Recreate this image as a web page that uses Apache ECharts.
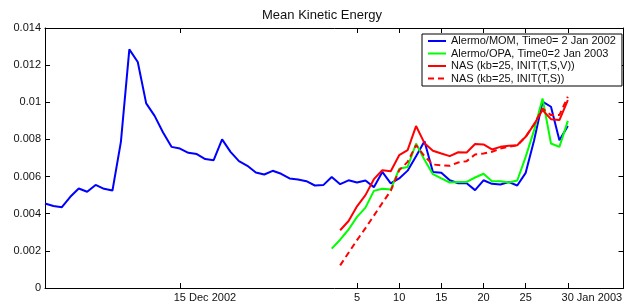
<!DOCTYPE html>
<html>
<head>
    <meta charset="UTF-8">
    <title>Mean Kinetic Energy</title>
    <style>
        html, body {
            margin: 0;
            padding: 0;
            overflow: hidden;
            background: #fff;
        }
        #chart {
            width: 631px;
            height: 306px;
        }
    </style>
    <script src="https://cdn.jsdelivr.net/npm/echarts@6/dist/echarts.min.js"></script>
</head>
<body>
<div id="chart"></div>
<script>
    // x values are day numbers counted from 30 Nov 2002 (1 = 1 Dec 2002, 32 = 1 Jan 2003)
    const momStart = -1;
    const momValues = [
        0.00455, 0.00442, 0.00435, 0.00491, 0.00536, 0.00518, 0.00555, 0.00534, 0.00525, 0.00787,
        0.01285, 0.01217, 0.00994, 0.00927, 0.00837, 0.00760, 0.00751, 0.00728, 0.00721, 0.00694,
        0.00688, 0.00800, 0.00733, 0.00683, 0.00658, 0.00622, 0.00611, 0.00631, 0.00615, 0.00590,
        0.00584, 0.00575, 0.00552, 0.00554, 0.00598, 0.00559, 0.00580, 0.00568, 0.00579, 0.00543,
        0.00625, 0.00563, 0.00590, 0.00632, 0.00710, 0.00790, 0.00625, 0.00620, 0.00580, 0.00564,
        0.00564, 0.00527, 0.00580, 0.00561, 0.00557, 0.00570, 0.00552, 0.00620, 0.00796, 0.01003,
        0.00976, 0.00796, 0.00872
    ];
    const opaStart = 33;
    const opaValues = [
        0.00212, 0.00260, 0.00315, 0.00383, 0.00433, 0.00523, 0.00534, 0.00530, 0.00642, 0.00652,
        0.00778, 0.00690, 0.00613, 0.00590, 0.00568, 0.00571, 0.00571, 0.00595, 0.00615, 0.00575,
        0.00575, 0.00568, 0.00579, 0.00706, 0.00850, 0.01021, 0.00778, 0.00760, 0.00900
    ];
    const nasStart = 34;
    const nasTSV = [
        0.00311, 0.00361, 0.00440, 0.00500, 0.00586, 0.00634, 0.00629, 0.00715, 0.00742, 0.00872,
        0.00780, 0.00739, 0.00724, 0.00710, 0.00731, 0.00730, 0.00775, 0.00773, 0.00746, 0.00760,
        0.00766, 0.00769, 0.00814, 0.00882, 0.00958, 0.00909, 0.00904, 0.01012
    ];
    const nasTS = [
        0.00122, 0.00190, 0.00258, 0.00322, 0.00390, 0.00458, 0.00523, 0.00634, 0.00679, 0.00769,
        0.00710, 0.00665, 0.00661, 0.00658, 0.00676, 0.00683, 0.00719, 0.00724, 0.00733, 0.00751,
        0.00760, 0.00769, 0.00814, 0.00882, 0.00967, 0.00931, 0.00931, 0.01030
    ];
    const seriesNames = [
        'Alermo/MOM, Time0= 2 Jan 2002',
        'Alermo/OPA, Time0=2 Jan 2003',
        'NAS (kb=25, INIT(T,S,V))',
        'NAS (kb=25, INIT(T,S))'
    ];
    const tickDays = [15, 36, 41, 46, 51, 56, 61];
    const tickNums = ['15', '5', '10', '15', '20', '25', '30'];
    const tickSuffix = [' Dec 2002', '', '', '', '', '', ' Jan 2003'];

    const fontFamily = '"Liberation Sans", Arial, sans-serif';
    const fontSize = 11;

    function pairs(start, values) {
        return values.map((v, i) => [start + i, v]);
    }

    // width of the month suffix, so the day number sits centred on its tick
    const ctx = document.createElement('canvas').getContext('2d');
    ctx.font = fontSize + 'px ' + fontFamily;
    function textWidth(s) { return ctx.measureText(s).width; }

    function dayLabel(value) {
        const i = tickDays.indexOf(Math.round(value));
        if (i < 0) return '';
        if (!tickSuffix[i]) return tickNums[i];
        const pad = Math.round(textWidth(tickSuffix[i]));
        return '{p' + pad + '|}' + tickNums[i] + tickSuffix[i];
    }
    const rich = {};
    tickSuffix.forEach(s => {
        if (s) {
            const pad = Math.round(textWidth(s));
            rich['p' + pad] = {width: pad};
        }
    });

    const chart = echarts.init(document.getElementById('chart'), null, {renderer: 'canvas'});

    const axisLine = {show: true, onZero: false, lineStyle: {color: '#000', width: 1}};
    const xMin = -1, xMax = 67.6;

    const option = {
        animation: false,
        backgroundColor: '#fff',
        textStyle: {fontFamily: fontFamily},
        title: {
            text: 'Mean Kinetic Energy',
            left: 257,
            top: 4,
            textStyle: {fontSize: 13, fontWeight: 'normal', color: '#111', fontFamily: fontFamily}
        },
        grid: {left: 45, right: 7.5, top: 28, bottom: 18, containLabel: false},
        legend: {
            orient: 'vertical',
            left: 422,
            top: 34,
            padding: [1.5, 6, 2, 5],
            itemWidth: 18,
            itemHeight: 11,
            itemGap: 1.5,
            backgroundColor: '#fff',
            borderColor: '#000',
            borderWidth: 1,
            borderRadius: 0,
            itemStyle: {opacity: 0},
            textStyle: {fontSize: fontSize, color: '#111', fontFamily: fontFamily},
            data: seriesNames
        },
        xAxis: [
            {
                type: 'value',
                position: 'bottom',
                min: xMin,
                max: xMax,
                axisLine: axisLine,
                axisTick: {show: true, inside: true, length: 5, customValues: tickDays, lineStyle: {color: '#000'}},
                axisLabel: {
                    customValues: tickDays,
                    formatter: dayLabel,
                    rich: rich,
                    fontSize: fontSize,
                    color: '#111',
                    margin: 4,
                    fontFamily: fontFamily
                },
                splitLine: {show: false}
            },
            {
                type: 'value',
                position: 'top',
                min: xMin,
                max: xMax,
                axisLine: axisLine,
                axisTick: {show: true, inside: true, length: 5, customValues: tickDays, lineStyle: {color: '#000'}},
                axisLabel: {show: false},
                splitLine: {show: false}
            }
        ],
        yAxis: [
            {
                type: 'value',
                position: 'left',
                min: 0,
                max: 0.014,
                interval: 0.002,
                axisLine: axisLine,
                axisTick: {show: true, inside: true, length: 5, lineStyle: {color: '#000'}},
                axisLabel: {
                    fontSize: fontSize,
                    color: '#111',
                    margin: 4,
                    fontFamily: fontFamily,
                    formatter: v => String(+v.toFixed(3))
                },
                splitLine: {show: false}
            },
            {
                type: 'value',
                position: 'right',
                min: 0,
                max: 0.014,
                interval: 0.002,
                axisLine: axisLine,
                axisTick: {show: true, inside: true, length: 5, lineStyle: {color: '#000'}},
                axisLabel: {show: false},
                splitLine: {show: false}
            }
        ],
        series: [
            {
                name: seriesNames[0], type: 'line', data: pairs(momStart, momValues),
                symbol: 'none', color: '#0000ff', lineStyle: {width: 2, color: '#0000ff'}, z: 2
            },
            {
                name: seriesNames[1], type: 'line', data: pairs(opaStart, opaValues),
                symbol: 'none', color: '#00ff00', lineStyle: {width: 2, color: '#00ff00'}, z: 3
            },
            {
                name: seriesNames[2], type: 'line', data: pairs(nasStart, nasTSV),
                symbol: 'none', color: '#ff0000', lineStyle: {width: 2, color: '#ff0000'}, z: 4
            },
            {
                name: seriesNames[3], type: 'line', data: pairs(nasStart, nasTS),
                symbol: 'none', color: '#ff0000', lineStyle: {width: 2, color: '#ff0000', type: [6, 4]}, z: 5
            }
        ]
    };
    chart.setOption(option);
</script>
</body>
</html>
